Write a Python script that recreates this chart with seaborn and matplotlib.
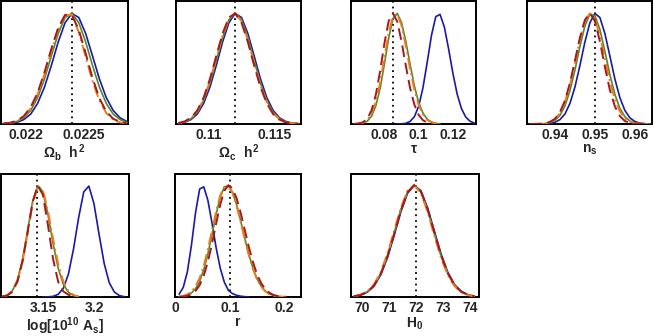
import numpy as np
import pandas as pd
import matplotlib
matplotlib.use("Agg")
import matplotlib.pyplot as plt
import seaborn as sns
from matplotlib.ticker import MultipleLocator, FixedLocator

sns.set_style("white")
plt.rcParams['font.family'] = ['Liberation Sans', 'DejaVu Sans']
plt.rcParams['font.weight'] = 'bold'
plt.rcParams['mathtext.fontset'] = 'custom'
plt.rcParams['mathtext.rm'] = 'Liberation Sans:bold'
plt.rcParams['mathtext.it'] = 'Liberation Sans:bold'
plt.rcParams['mathtext.bf'] = 'Liberation Sans:bold'

nan = np.nan

# ---------------- data (normalised 1-D posteriors) ----------------
# Omega_b h^2
obh2_x = [0.0218, 0.02186, 0.02192, 0.02198, 0.02204, 0.0221, 0.02216, 0.02222, 0.02228, 0.02234,
          0.0224, 0.02246, 0.02252, 0.02258, 0.02264, 0.0227, 0.02276, 0.02282, 0.02288]
obh2_blue = [0.0015, 0.005, 0.015, 0.04, 0.09, 0.186, 0.333, 0.528, 0.74, 0.914,
             0.998, 0.961, 0.817, 0.614, 0.407, 0.238, 0.123, 0.056, 0.023]
obh2_green = [0.0025, 0.008, 0.023, 0.056, 0.123, 0.238, 0.407, 0.614, 0.817, 0.961,
              0.998, 0.914, 0.74, 0.528, 0.333, 0.186, 0.09, 0.04, 0.015]
obh2_red = [0.0036, 0.011, 0.03, 0.072, 0.152, 0.283, 0.466, 0.678, 0.869, 0.985,
            0.982, 0.85, 0.637, 0.414, 0.233, 0.113, 0.048, 0.018, 0.0055]
obh2_orange = [0.0032, 0.01, 0.027, 0.066, 0.142, 0.268, 0.446, 0.656, 0.853, 0.978,
               0.988, 0.828, 0.607, 0.386, 0.211, 0.099, 0.041, 0.014, 0.0043]

# Omega_c h^2
och2_x = [0.10768, 0.10816, 0.10864, 0.10912, 0.1096, 0.11008, 0.11056, 0.11104, 0.11152, 0.112,
          0.11248, 0.11296, 0.11344, 0.11392, 0.1144, 0.11488, 0.11536, 0.11584, 0.11632, 0.1168]
och2_blue = [0.005, 0.015, 0.04, 0.09, 0.186, 0.333, 0.528, 0.74, 0.914, 0.998,
             0.961, 0.817, 0.614, 0.407, 0.238, 0.123, 0.056, 0.023, 0.008, 0.0025]
och2_green = [0.0064, 0.019, 0.047, 0.106, 0.211, 0.369, 0.571, 0.779, 0.94, 1.0,
              0.94, 0.779, 0.571, 0.369, 0.211, 0.106, 0.047, 0.019, 0.0064, 0.002]
och2_red = [0.008, 0.023, 0.056, 0.123, 0.238, 0.407, 0.614, 0.817, 0.961, 0.998,
            0.914, 0.74, 0.528, 0.333, 0.186, 0.09, 0.04, 0.015, 0.005, 0.0015]
och2_orange = [0.0075, 0.021, 0.051, 0.114, 0.224, 0.388, 0.593, 0.798, 0.951, 0.999,
               0.927, 0.76, 0.55, 0.351, 0.198, 0.098, 0.043, 0.017, 0.0057, 0.0017]

# tau
tau_x = [0.0625, 0.065, 0.0675, 0.07, 0.0725, 0.075, 0.0775, 0.08, 0.0825, 0.085,
         0.0875, 0.09, 0.0925, 0.095, 0.0975, 0.1, 0.1025, 0.105, 0.1075, 0.11,
         0.1125, 0.115, 0.1175, 0.12, 0.1225, 0.125, 0.1275, 0.13, 0.1325]
tau_blue = [nan, nan, nan, nan, nan, nan, nan, nan, nan, nan,
            0.0003, 0.0016, 0.0066, 0.023, 0.066, 0.159, 0.325, 0.557, 0.80, 0.969,
            0.989, 0.876, 0.678, 0.458, 0.27, 0.139, 0.063, 0.025, 0.0085]
tau_green = [0.0005, 0.0023, 0.0082, 0.026, 0.071, 0.164, 0.32, 0.54, 0.775, 0.951,
             0.998, 0.917, 0.747, 0.54, 0.345, 0.194, 0.099, 0.044, 0.017, 0.006,
             0.002, nan, nan, nan, nan, nan, nan, nan, nan]
tau_red = [0.001, 0.0043, 0.016, 0.048, 0.122, 0.265, 0.476, 0.726, 0.929, 1.0,
           0.924, 0.746, 0.527, 0.325, 0.175, 0.082, 0.034, 0.012, 0.004, nan,
           nan, nan, nan, nan, nan, nan, nan, nan, nan]
tau_orange = [0.0009, 0.0035, 0.012, 0.036, 0.092, 0.198, 0.37, 0.595, 0.823, 0.973,
              0.99, 0.889, 0.707, 0.498, 0.311, 0.172, 0.085, 0.037, 0.014, 0.005,
              0.0015, nan, nan, nan, nan, nan, nan, nan, nan]

# n_s
ns_x = [0.93375, 0.935, 0.93625, 0.9375, 0.93875, 0.94, 0.94125, 0.9425, 0.94375, 0.945,
        0.94625, 0.9475, 0.94875, 0.95, 0.95125, 0.9525, 0.95375, 0.955, 0.95625, 0.9575,
        0.95875, 0.96, 0.96125, 0.9625, 0.96375]
ns_blue = [0.0, 0.0001, 0.0004, 0.0015, 0.005, 0.015, 0.04, 0.09, 0.186, 0.333,
           0.528, 0.74, 0.914, 0.998, 0.961, 0.817, 0.614, 0.407, 0.238, 0.123,
           0.056, 0.023, 0.008, 0.0025, 0.0007]
ns_green = [0.0001, 0.0003, 0.0012, 0.004, 0.012, 0.033, 0.078, 0.163, 0.3, 0.486,
            0.70, 0.885, 0.99, 0.978, 0.853, 0.656, 0.446, 0.268, 0.142, 0.066,
            0.027, 0.01, 0.0032, 0.0009, 0.0002]
ns_red = [0.0001, 0.0005, 0.002, 0.0064, 0.019, 0.047, 0.106, 0.211, 0.369, 0.571,
          0.779, 0.94, 1.0, 0.929, 0.746, 0.516, 0.308, 0.159, 0.071, 0.027,
          0.009, 0.0026, 0.0006, 0.0001, 0.0]
ns_orange = [0.0001, 0.0005, 0.0017, 0.0057, 0.017, 0.043, 0.098, 0.198, 0.351, 0.549,
             0.76, 0.927, 0.999, 0.951, 0.798, 0.592, 0.388, 0.224, 0.114, 0.051,
             0.021, 0.0072, 0.0022, 0.0006, 0.0001]

# log[10^10 A_s]
as_x = [3.11, 3.115, 3.12, 3.125, 3.13, 3.135, 3.14, 3.145, 3.15, 3.155,
        3.16, 3.165, 3.17, 3.175, 3.18, 3.185, 3.19, 3.195, 3.2, 3.205,
        3.21, 3.215, 3.22, 3.225, 3.23]
as_blue = [nan, nan, nan, nan, nan, nan, nan, nan, 0.0002, 0.0011,
           0.0058, 0.024, 0.078, 0.205, 0.43, 0.71, 0.94, 0.992, 0.835, 0.56,
           0.30, 0.127, 0.044, 0.012, 0.0025]
as_green = [0.0039, 0.016, 0.055, 0.152, 0.334, 0.595, 0.857, 0.996, 0.941, 0.736,
            0.477, 0.256, 0.113, 0.042, 0.0125, 0.003, nan, nan, nan, nan,
            nan, nan, nan, nan, nan]
as_red = [0.0028, 0.013, 0.046, 0.135, 0.315, 0.576, 0.85, 0.995, 0.915, 0.64,
          0.338, 0.135, 0.05, 0.02, 0.006, nan, nan, nan, nan, nan,
          nan, nan, nan, nan, nan]
as_orange = [0.0033, 0.014, 0.05, 0.138, 0.311, 0.568, 0.835, 0.99, 0.957, 0.77,
             0.52, 0.292, 0.138, 0.054, 0.018, 0.005, nan, nan, nan, nan,
             nan, nan, nan, nan, nan]

# r
r_x = [0.0075, 0.015, 0.0225, 0.03, 0.0375, 0.045, 0.0525, 0.06, 0.0675, 0.075,
       0.0825, 0.09, 0.0975, 0.105, 0.1125, 0.12, 0.1275, 0.135, 0.1425, 0.15,
       0.1575, 0.165, 0.1725, 0.18, 0.1875, 0.195, 0.2025, 0.21]
r_blue = [0.025, 0.085, 0.224, 0.463, 0.755, 0.966, 0.985, 0.865, 0.663, 0.443,
          0.26, 0.133, 0.059, 0.03, 0.015, 0.007, 0.003, 0.001, nan, nan,
          nan, nan, nan, nan, nan, nan, nan, nan]
r_green = [0.0024, 0.0064, 0.016, 0.036, 0.074, 0.141, 0.244, 0.386, 0.558, 0.738,
           0.891, 0.984, 0.995, 0.937, 0.825, 0.679, 0.523, 0.377, 0.254, 0.16,
           0.095, 0.052, 0.027, 0.013, 0.006, 0.0024, 0.001, nan]
r_red = [0.0014, 0.004, 0.0105, 0.025, 0.054, 0.106, 0.191, 0.315, 0.475, 0.655,
         0.825, 0.95, 1.0, 0.971, 0.882, 0.75, 0.596, 0.443, 0.309, 0.2,
         0.122, 0.069, 0.037, 0.018, 0.0085, 0.0038, 0.0015, nan]
r_orange = [0.004, 0.01, 0.023, 0.048, 0.095, 0.17, 0.278, 0.425, 0.595, 0.766,
            0.907, 0.989, 0.993, 0.93, 0.815, 0.669, 0.513, 0.37, 0.248, 0.155,
            0.091, 0.05, 0.025, 0.012, 0.0056, 0.0023, 0.0009, nan]

# H_0
h0_x = [69.68, 69.93, 70.18, 70.43, 70.68, 70.93, 71.18, 71.43, 71.68, 71.93,
        72.18, 72.43, 72.68, 72.93, 73.18, 73.43, 73.68, 73.93, 74.18]
h0_blue = [0.0057, 0.017, 0.043, 0.098, 0.198, 0.351, 0.549, 0.76, 0.927, 0.999,
           0.951, 0.798, 0.592, 0.388, 0.224, 0.114, 0.051, 0.021, 0.0072]
h0_green = [0.0064, 0.019, 0.047, 0.106, 0.211, 0.369, 0.571, 0.779, 0.94, 1.0,
            0.94, 0.779, 0.571, 0.369, 0.211, 0.106, 0.047, 0.019, 0.0064]
h0_red = [0.006, 0.018, 0.045, 0.102, 0.205, 0.36, 0.56, 0.77, 0.935, 1.0,
          0.945, 0.788, 0.582, 0.378, 0.217, 0.11, 0.049, 0.02, 0.0068]
h0_orange = [0.0072, 0.021, 0.051, 0.114, 0.224, 0.388, 0.592, 0.798, 0.951, 0.999,
             0.927, 0.76, 0.549, 0.351, 0.198, 0.098, 0.043, 0.017, 0.0057]

# fiducial values (dotted lines)
fiducial = [0.0224, 0.112, 0.085, 0.95, 3.144, 0.1, 72.0]

labels = [r'$\Omega_b\ \ h^2$', r'$\Omega_c\ \ h^2$', r'$\tau$', r'$n_s$',
          r'$\log[10^{10}\ A_s]$', 'r', r'$H_0$']
major_ticks = [[0.022, 0.0225], [0.11, 0.115], [0.08, 0.1, 0.12], [0.94, 0.95, 0.96],
               [3.15, 3.2], [0.0, 0.1, 0.2], [70, 71, 72, 73, 74]]
tick_labels = [['0.022', '0.0225'], ['0.11', '0.115'], ['0.08', '0.1', '0.12'],
               ['0.94', '0.95', '0.96'], ['3.15', '3.2'], ['0', '0.1', '0.2'],
               ['70', '71', '72', '73', '74']]

# ---------------- layout / style ----------------
W, H = 654, 336
fig = plt.figure(figsize=(W / 100, H / 100), dpi=100)
fig.patch.set_facecolor('white')

rects_px = [(1, 1, 127, 123), (176, 1, 125, 123), (351, 1, 125, 123), (527, 1, 125, 123),
            (1, 174, 128, 123), (175, 174, 126, 123), (351, 174, 128, 123)]
xlims = [(0.02178, 0.02289), (0.1075, 0.117), (0.0605, 0.1335), (0.933, 0.9643),
         (3.109, 3.2343), (0.0, 0.23), (69.57, 74.35)]
minor_steps = [0.0001, 0.001, 0.004, 0.002, 0.01, 0.02, 0.2]
ytops = [1.11, 1.11, 1.11, 1.11, 1.10, 1.10, 1.10]

panels = [
    (obh2_x, obh2_blue, obh2_green, obh2_orange, obh2_red),
    (och2_x, och2_blue, och2_green, och2_orange, och2_red),
    (tau_x, tau_blue, tau_green, tau_orange, tau_red),
    (ns_x, ns_blue, ns_green, ns_orange, ns_red),
    (as_x, as_blue, as_green, as_orange, as_red),
    (r_x, r_blue, r_green, r_orange, r_red),
    (h0_x, h0_blue, h0_green, h0_orange, h0_red),
]

styles = [
    dict(color='#1a1aa8', linestyle='-', linewidth=1.2),
    dict(color='#4f8a30', linestyle='-', linewidth=1.2),
    dict(color='#f07a1a', linestyle=(0, (6, 2, 1, 2)), linewidth=1.4),
    dict(color='#a81818', linestyle=(0, (6, 3)), linewidth=1.4),
]

for i, (x, *curves) in enumerate(panels):
    l, t, w, h = rects_px[i]
    ax = fig.add_axes([l / W, 1 - (t + h) / H, w / W, h / H])
    ax.axvline(fiducial[i], color='black', linestyle=(0, (1, 2.2)), linewidth=1.3, zorder=1)
    for y, st in zip(curves, styles):
        df = pd.DataFrame({'x': x, 'y': y}).dropna()
        sns.lineplot(data=df, x='x', y='y', ax=ax, estimator=None, sort=False,
                     legend=False, zorder=3, **st)
    ax.set_xlim(*xlims[i])
    ax.set_ylim(0, ytops[i])
    ax.set_yticks([])
    ax.set_ylabel('')
    ax.xaxis.set_major_locator(FixedLocator(major_ticks[i]))
    ax.set_xticklabels(tick_labels[i])
    ax.xaxis.set_minor_locator(MultipleLocator(minor_steps[i]))
    ax.tick_params(axis='x', which='major', direction='in', length=5, width=1.0,
                   color='black', labelsize=10, pad=3, top=False)
    ax.tick_params(axis='x', which='minor', direction='in', length=2.8, width=1.0,
                   color='black', top=False)
    for lab in ax.get_xticklabels():
        lab.set_fontweight('bold')
    ax.set_xlabel(labels[i], fontsize=10, fontweight='bold', labelpad=0)
    for sp in ax.spines.values():
        sp.set_visible(True)
        sp.set_color('black')
        sp.set_linewidth(1.4)
    ax.set_facecolor('white')

fig.savefig('out.png', dpi=100, facecolor='white')
